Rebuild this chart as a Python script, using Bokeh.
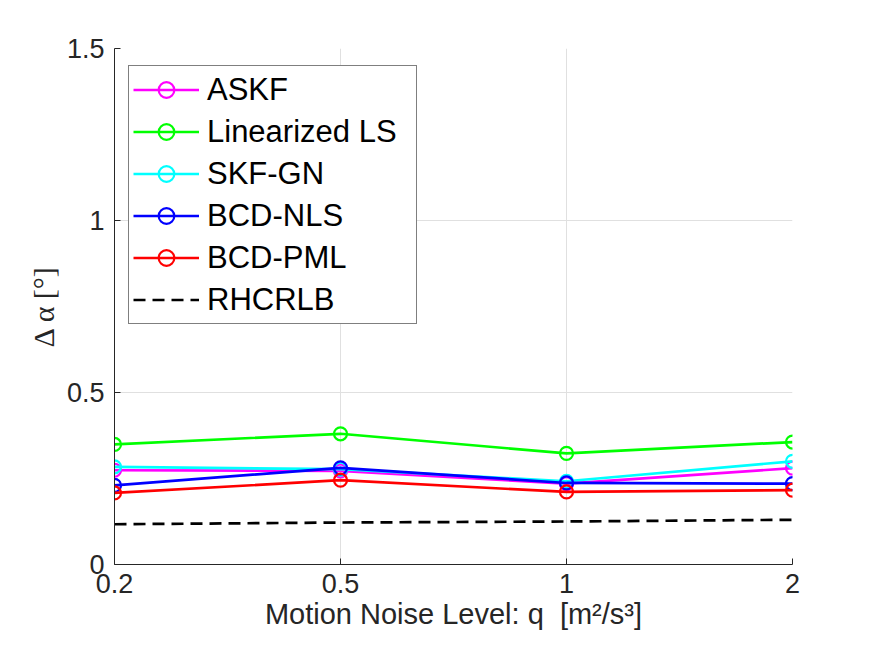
from bokeh.plotting import figure
from bokeh.models import FixedTicker, Legend
from bokeh.embed import file_html
from bokeh.resources import INLINE

q_labels = ["0.2", "0.5", "1", "2"]
askf = [0.274, 0.272, 0.235, 0.280]
lin_ls = [0.349, 0.380, 0.323, 0.356]
skf_gn = [0.284, 0.277, 0.242, 0.300]
bcd_nls = [0.230, 0.281, 0.237, 0.235]
bcd_pml = [0.208, 0.245, 0.211, 0.216]
rhcrlb = [0.117, 0.122, 0.125, 0.130]

series_names = ["ASKF", "Linearized LS", "SKF-GN", "BCD-NLS", "BCD-PML"]
series_values = [askf, lin_ls, skf_gn, bcd_nls, bcd_pml]
series_colors = ["#ff00ff", "#00ff00", "#00ffff", "#0000ff", "#ff0000"]

y_ticks = [0, 0.5, 1, 1.5]

xs = list(range(len(q_labels)))

p = figure(width=859, height=640, output_backend="svg", toolbar_location=None,
           x_range=(xs[0], xs[-1]), y_range=(0, 1.5),
           min_border_left=114, min_border_right=67, min_border_top=48, min_border_bottom=76)
p.outline_line_color = None
p.background_fill_color = "white"
p.border_fill_color = "white"

items = []
for name, vals, col in zip(series_names, series_values, series_colors):
    l = p.line(xs, vals, line_color=col, line_width=2.7)
    s = p.scatter(xs, vals, marker="circle", size=13, fill_color=None, line_color=col, line_width=2.2)
    items.append((name, [l, s]))
r = p.line(xs, rhcrlb, line_color="black", line_width=2.7, line_dash="12 7")
items.append(("RHCRLB", [r]))

legend = Legend(items=items, location=(14, 240))
legend.label_text_font = "Liberation Sans"
legend.label_text_font_size = "31px"
legend.label_text_color = "black"
legend.border_line_color = "black"
legend.border_line_width = 1
legend.background_fill_color = "white"
legend.background_fill_alpha = 1
legend.glyph_width = 66
legend.glyph_height = 39
legend.label_height = 39
legend.label_width = 205
legend.label_standoff = 8
legend.padding = 4
legend.spacing = 3
legend.margin = 0
p.add_layout(legend, "center")

for ax in (p.xaxis[0], p.yaxis[0]):
    ax.axis_line_color = "#262626"
    ax.axis_line_width = 1
    ax.major_tick_line_color = "#262626"
    ax.major_tick_in = 6
    ax.major_tick_out = 0
    ax.minor_tick_line_color = None
    ax.major_label_text_font = "Liberation Sans"
    ax.major_label_text_font_size = "27px"
    ax.major_label_text_color = "#262626"
    ax.axis_label_text_color = "#262626"
    ax.axis_label_text_font_style = "normal"

p.xaxis.ticker = FixedTicker(ticks=xs)
p.xaxis.major_label_overrides = {i: lab for i, lab in zip(xs, q_labels)}
p.xaxis.major_label_standoff = 9
p.xaxis.axis_label = "Motion Noise Level: q\u00a0\u00a0[m²/s³]"
p.xaxis.axis_label_text_font = "Liberation Sans"
p.xaxis.axis_label_text_font_size = "29px"
p.xaxis.axis_label_standoff = 2

p.yaxis.ticker = FixedTicker(ticks=y_ticks)
p.yaxis.major_label_overrides = {0: "0", 0.5: "0.5", 1: "1", 1.5: "1.5"}
p.yaxis.major_label_standoff = 10
p.yaxis.axis_label = "Δ α [°]"
p.yaxis.axis_label_text_font = "Liberation Serif"
p.yaxis.axis_label_text_font_size = "30px"
p.yaxis.axis_label_standoff = 4

p.xgrid.grid_line_color = "#e0e0e0"
p.ygrid.grid_line_color = "#e0e0e0"
p.xgrid.grid_line_width = 1
p.ygrid.grid_line_width = 1

open("out.html", "w").write(file_html(p, INLINE))
